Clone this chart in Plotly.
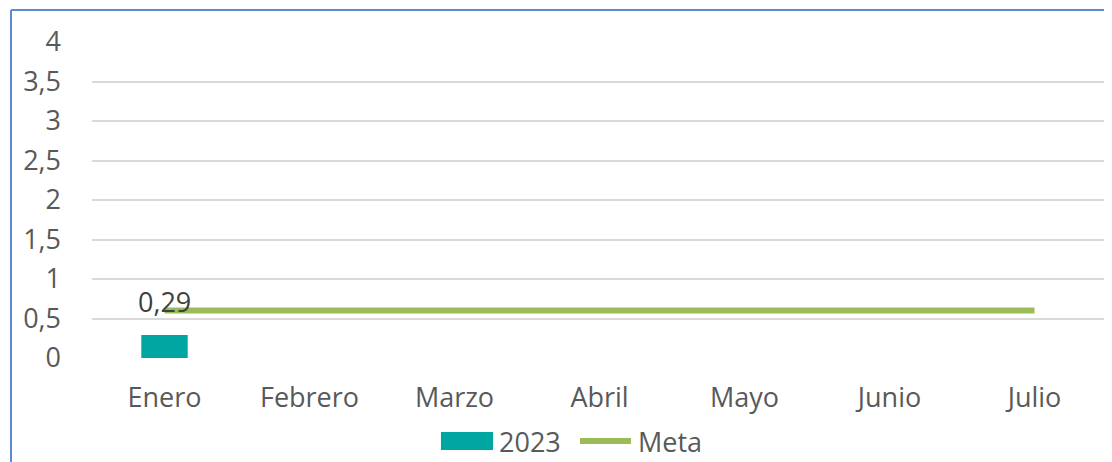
import plotly.graph_objects as go

categories = ["Enero", "Febrero", "Marzo", "Abril", "Mayo", "Junio", "Julio"]
values_2023 = [0.29, None, None, None, None, None, None]
meta = [0.6, 0.6, 0.6, 0.6, 0.6, 0.6, 0.6]
label_2023 = "0,29"
series_names = ["2023", "Meta"]

FONT = "Open Sans"
TXT = "#595959"
TEAL = "#00A6A2"
GREEN = "#9BBB59"
FS = 27

fig = go.Figure()
fig.add_trace(go.Bar(
    x=categories, y=values_2023, name=series_names[0],
    marker=dict(color=TEAL, line=dict(width=0)),
    width=0.32, showlegend=False,
))
fig.add_trace(go.Scatter(
    x=categories, y=meta, name=series_names[1], mode="lines",
    line=dict(color=GREEN, width=6), showlegend=False,
))

# data label
fig.add_annotation(x=categories[0], y=values_2023[0], text=label_2023, showarrow=False,
                   yanchor="bottom", yshift=13,
                   font=dict(family=FONT, size=FS, color="#404040"))

# custom legend
fig.add_shape(type="rect", xref="paper", yref="paper", x0=0.3438, x1=0.3951,
              y0=-0.2911, y1=-0.2342, fillcolor=TEAL, line=dict(width=0))
fig.add_annotation(xref="paper", yref="paper", x=0.399, y=-0.2627, text=series_names[0],
                   showarrow=False, xanchor="left", yanchor="middle",
                   font=dict(family=FONT, size=FS, color=TXT))
fig.add_shape(type="line", xref="paper", yref="paper", x0=0.4808, x1=0.5310,
              y0=-0.2627, y1=-0.2627, line=dict(color=GREEN, width=6))
fig.add_annotation(xref="paper", yref="paper", x=0.536, y=-0.2627, text=series_names[1],
                   showarrow=False, xanchor="left", yanchor="middle",
                   font=dict(family=FONT, size=FS, color=TXT))

# chart border (left and top)
fig.add_shape(type="line", xref="paper", yref="paper", x0=-0.0798, x1=-0.0798, y0=1.101, y1=-0.4,
              line=dict(color="#5B8BD0", width=2))
fig.add_shape(type="line", xref="paper", yref="paper", x0=-0.0798, x1=1.01, y0=1.101, y1=1.101,
              line=dict(color="#5B8BD0", width=2))

fig.update_layout(
    width=1104, height=454,
    margin=dict(l=84, r=5, t=34, b=104, autoexpand=False),
    paper_bgcolor="white", plot_bgcolor="white",
    separators=",.",
    font=dict(family=FONT, size=FS, color=TXT),
    showlegend=False,
    xaxis=dict(showgrid=False, showline=False, zeroline=False, ticks="", automargin=False,
               ticklabelstandoff=21, tickfont=dict(family=FONT, size=FS, color=TXT)),
    yaxis=dict(range=[0, 4], dtick=0.5, showgrid=True, gridcolor="#D9D9D9", gridwidth=2,
               zeroline=False, showline=False, ticks="", ticklabelstandoff=30, automargin=False,
               tickfont=dict(family=FONT, size=FS, color=TXT)),
)

fig.write_html("out.html")
